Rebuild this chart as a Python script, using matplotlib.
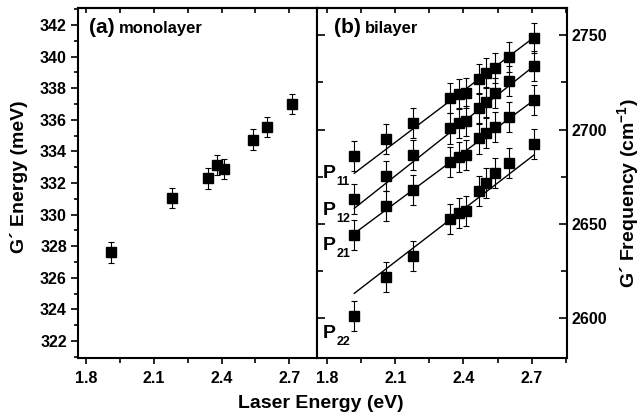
import numpy as np
import matplotlib
matplotlib.use("Agg")
import matplotlib.pyplot as plt
from matplotlib.ticker import MultipleLocator

plt.rcParams['font.family'] = ['Liberation Sans', 'DejaVu Sans']
plt.rcParams['font.weight'] = 'bold'
plt.rcParams['mathtext.fontset'] = 'custom'
plt.rcParams['mathtext.bf'] = 'Liberation Sans:bold'
plt.rcParams['mathtext.rm'] = 'Liberation Sans:bold'

###############################################################################
# data

# (a) monolayer: G' energy (meV) vs laser energy (eV)
mono_energy = [1.91, 2.18, 2.34, 2.38, 2.41, 2.54, 2.60, 2.71]
mono_g = [327.6, 331.05, 332.3, 333.15, 332.9, 334.75, 335.55, 337.0]
mono_err = 0.65

# (b) bilayer: G' frequency (cm-1) for the four processes
bi_energy = [1.92, 2.06, 2.18, 2.34, 2.38, 2.41, 2.47, 2.50, 2.54, 2.60, 2.71]
p11 = [2685.9, 2694.8, 2703.6, 2716.9, 2718.8, 2719.2, 2726.8, 2729.8, 2732.5, 2738.6, 2748.7]
p12 = [2663.0, 2675.5, 2686.5, 2700.6, 2703.6, 2704.7, 2711.2, 2714.7, 2719.5, 2725.9, 2733.7]
p21 = [2644.0, 2659.4, 2667.9, 2682.9, 2685.3, 2686.5, 2695.3, 2698.0, 2701.5, 2706.8, 2715.6]
p22 = [2601.1, 2621.9, 2632.9, 2652.5, 2655.9, 2656.9, 2667.5, 2671.5, 2676.8, 2682.4, 2692.3]
bi_err = 8.0

# straight fit lines (start / end value)
fit_energy = [1.92, 2.71]
fit_p11 = [2676.8, 2748.9]
fit_p12 = [2658.2, 2733.7]
fit_p21 = [2644.9, 2715.6]
fit_p22 = [2613.1, 2686.5]

labels = ['11', '12', '21', '22']
label_y = [0.513, 0.409, 0.309, 0.056]

###############################################################################
W, H = 642, 413
fig = plt.figure(figsize=(W / 100, H / 100), dpi=100)

axL = fig.add_axes([78 / W, 1 - 358 / H, 238.5 / W, 350 / H])
axR = fig.add_axes([316.5 / W, 1 - 358 / H, 250.2 / W, 350 / H])

ebar = dict(fmt='s', color='black', ms=7.5, elinewidth=0.8, capsize=2.4, capthick=0.8)

for ax in (axL, axR):
    for sp in ax.spines.values():
        sp.set_linewidth(1.5)
    ax.xaxis.set_major_locator(MultipleLocator(0.3))
    ax.xaxis.set_minor_locator(MultipleLocator(0.15))
    ax.tick_params(axis='x', which='both', direction='out', width=1.2, labelsize=11.5, pad=5.5)
    ax.tick_params(axis='x', which='major', length=4)
    ax.tick_params(axis='x', which='minor', length=3.5)
    top = ax.secondary_xaxis('top')
    top.xaxis.set_major_locator(MultipleLocator(0.15))
    top.tick_params(direction='in', length=3.5, width=1.2, labeltop=False)
    top.spines['top'].set_linewidth(1.5)

# left panel
axL.errorbar(mono_energy, mono_g, yerr=mono_err, **ebar)
axL.set_xlim(1.7646, 2.82)
axL.set_ylim(320.92, 343.08)
axL.yaxis.set_major_locator(MultipleLocator(2))
axL.yaxis.set_minor_locator(MultipleLocator(1))
axL.tick_params(axis='y', which='both', direction='out', width=1.2, labelsize=11.5, pad=3)
axL.tick_params(axis='y', which='major', length=5)
axL.tick_params(axis='y', which='minor', length=3)
axL.text(0.046, 0.928, '(a)', transform=axL.transAxes, fontsize=15, fontweight='bold')
axL.text(0.17, 0.928, 'monolayer', transform=axL.transAxes, fontsize=12, fontweight='bold')

# right panel
for vals, fit in zip([p11, p12, p21, p22], [fit_p11, fit_p12, fit_p21, fit_p22]):
    axR.plot(fit_energy, fit, color='black', lw=1.0)
    axR.errorbar(bi_energy, vals, yerr=bi_err, **ebar)
axR.set_xlim(1.754, 2.854)
axR.set_ylim(2578.8, 2764.5)
axR.yaxis.set_major_locator(MultipleLocator(50))
axR.yaxis.set_minor_locator(MultipleLocator(25))
axR.tick_params(axis='y', which='both', direction='in', left=True, right=True,
                labelleft=False, labelright=True, width=1.2, labelsize=11.5, pad=3.5)
axR.tick_params(axis='y', which='major', length=6)
axR.tick_params(axis='y', which='minor', length=4)
axR.text(0.071, 0.928, '(b)', transform=axR.transAxes, fontsize=15, fontweight='bold')
axR.text(0.192, 0.928, 'bilayer', transform=axR.transAxes, fontsize=12, fontweight='bold')

for sub, y in zip(labels, label_y):
    axR.text(0.025, y, 'P', transform=axR.transAxes, fontsize=14, fontweight='bold')
    axR.annotate(sub, xy=(0.025, y), xycoords='axes fraction', xytext=(9.8, -5),
                 textcoords='offset points', fontsize=9, fontweight='bold')

# axis titles
fig.text(0.5, 1 - 403 / H, 'Laser Energy (eV)', ha='center', va='center',
         fontsize=14, fontweight='bold')
fig.text(19.5 / W, 1 - 177 / H, 'G\u00b4 Energy (meV)', rotation=90, ha='center',
         va='center', fontsize=14, fontweight='bold')
fig.text(629 / W, 1 - 193 / H, 'G\u00b4 Frequency (cm$^{\\mathbf{-1}}$)', rotation=90,
         ha='center', va='center', fontsize=14, fontweight='bold')

fig.savefig('out.png', dpi=100)
